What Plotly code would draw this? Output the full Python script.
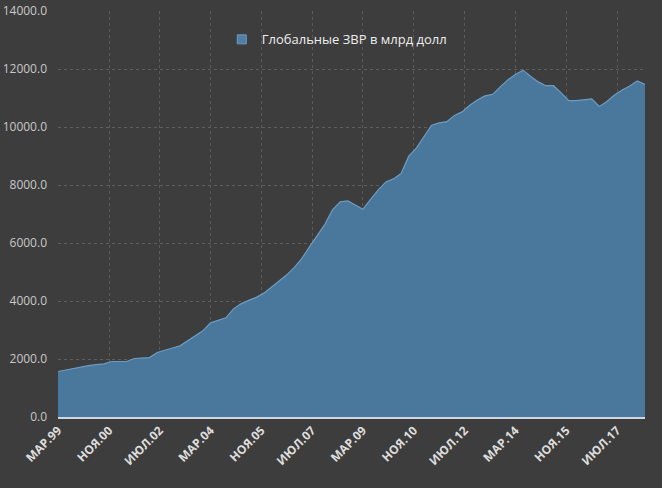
import plotly.graph_objects as go
import pandas as pd

# Quarterly observations, Mar 1999 .. Jun 2018
quarters = pd.date_range("1999-03-01", "2018-06-01", freq="3MS").strftime("%Y-%m-%d").tolist()
reserves = [
    1568, 1620, 1680, 1741, 1772, 1806, 1834, 1913, 1913, 1913,
    2017, 2030, 2048, 2223, 2289, 2378, 2454, 2627, 2800, 2971,
    3247, 3323, 3419, 3730, 3902, 4023, 4126, 4271, 4478, 4702,
    4902, 5160, 5470, 5874, 6263, 6642, 7142, 7418, 7452, 7314,
    7166, 7504, 7832, 8107, 8211, 8393, 8993, 9269, 9659, 10062,
    10141, 10186, 10400, 10520, 10751, 10934, 11072, 11124, 11382, 11623,
    11813, 11961, 11744, 11555, 11424, 11424, 11175, 10910, 10910, 10934,
    10968, 10710, 10882, 11106, 11279, 11417, 11589, 11468,
]
series_name = "Глобальные ЗВР в млрд долл"

tick_dates = ["1999-03-01", "2000-11-01", "2002-07-01", "2004-03-01", "2005-11-01",
              "2007-07-01", "2009-03-01", "2010-11-01", "2012-07-01", "2014-03-01",
              "2015-11-01", "2017-07-01"]
tick_labels = ["МАР.99", "НОЯ.00", "ИЮЛ.02", "МАР.04", "НОЯ.05", "ИЮЛ.07",
               "МАР.09", "НОЯ.10", "ИЮЛ.12", "МАР.14", "НОЯ.15", "ИЮЛ.17"]
y_ticks = [0, 2000, 4000, 6000, 8000, 10000, 12000, 14000]

bg = "#3d3d3d"
fill_col = "rgba(74,120,156,1)"
fig = go.Figure()
fig.add_trace(go.Scatter(
    x=quarters, y=reserves, name=series_name, mode="lines",
    fill="tozeroy", fillcolor=fill_col,
    line=dict(color="#6d9cc2", width=1.2),
    showlegend=False,
))
# legend entry only (square swatch)
fig.add_trace(go.Scatter(
    x=[None], y=[None], name=series_name, mode="markers",
    marker=dict(symbol="square", size=9, color="#4f7fa6",
                line=dict(color="#6d9cc2", width=1)),
    showlegend=True,
))

fig.update_layout(
    width=662, height=488,
    paper_bgcolor=bg, plot_bgcolor=bg,
    margin=dict(l=58, r=17, t=11, b=71),
    font=dict(family="Open Sans", color="#cccccc"),
    showlegend=True,
    legend=dict(
        x=0.279, y=0.93, xanchor="left", yanchor="middle",
        bgcolor="rgba(0,0,0,0)", font=dict(size=13, color="#eeeeee"),
        itemwidth=30, tracegroupgap=0,
    ),
    xaxis=dict(
        type="date", range=[quarters[0], quarters[-1]], automargin=False,
        tickvals=tick_dates, ticktext=tick_labels, tickangle=-45,
        tickfont=dict(size=12, color="#dddddd", family="Open Sans", weight="bold"),
        showgrid=True, gridcolor="#5a5a5a", griddash="dot", gridwidth=1,
        showline=True, linecolor="#cfd8e0", linewidth=1.5,
        zeroline=False, ticks="",
    ),
    yaxis=dict(
        range=[0, 14000], tickvals=y_ticks, tickformat=".1f", automargin=False,
        tickfont=dict(size=12, color="#c8c8c8"),
        showgrid=True, gridcolor="#5e5e5e", griddash="dot", gridwidth=1,
        zeroline=False, showline=False, ticks="", ticklabelstandoff=10,
    ),
)

fig.write_html("out.html")
